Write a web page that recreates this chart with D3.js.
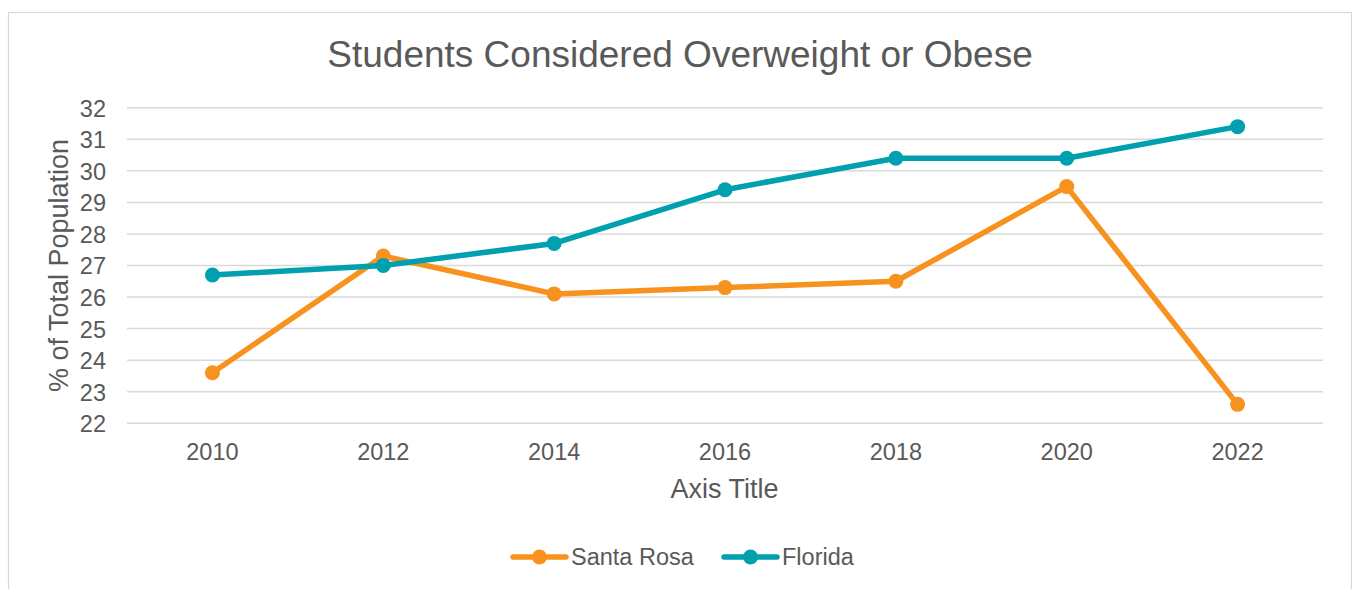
<!DOCTYPE html>
<html>
<head>
<meta charset="utf-8">
<script src="https://cdn.jsdelivr.net/npm/d3@7"></script>
<style>
  html, body { margin: 0; padding: 0; background: #fff; }
  svg { display: block; font-family: "Liberation Sans", Arial, sans-serif; }
</style>
</head>
<body>
<svg id="chart" width="1353" height="589"></svg>
<script>
// Survey years and percentages of students considered overweight or obese
const years = ["2010", "2012", "2014", "2016", "2018", "2020", "2022"];
const santaRosa = [23.6, 27.3, 26.1, 26.3, 26.5, 29.5, 22.6];
const florida = [26.7, 27.0, 27.7, 29.4, 30.4, 30.4, 31.4];
const yTicks = [22, 23, 24, 25, 26, 27, 28, 29, 30, 31, 32];
const seriesNames = ["Santa Rosa", "Florida"];
const seriesColors = ["#F7921E", "#00A0AF"];

const svg = d3.select("#chart");
const textColor = "#595959";
const fontFamily = '"Liberation Sans", Arial, sans-serif';

// Outer frame
svg.append("rect")
  .attr("x", 8.5).attr("y", 12.5)
  .attr("width", 1343).attr("height", 600)
  .attr("fill", "#fff").attr("stroke", "#D9D9D9").attr("stroke-width", 1.2);

const plot = { left: 127, right: 1323, top: 107.7, bottom: 423.3 };

const x = d3.scaleBand().domain(years).range([plot.left, plot.right]);
const y = d3.scaleLinear().domain([22, 32]).range([plot.bottom, plot.top]);
const cx = yr => x(yr) + x.bandwidth() / 2;

// Horizontal gridlines
svg.append("g")
  .selectAll("line")
  .data(yTicks)
  .join("line")
  .attr("x1", plot.left).attr("x2", plot.right)
  .attr("y1", d => y(d)).attr("y2", d => y(d))
  .attr("stroke", "#D9D9D9").attr("stroke-width", 1.5);

// Y axis labels
const yAxis = d3.axisLeft(y).tickValues(yTicks).tickSize(0).tickPadding(0);
svg.append("g")
  .attr("transform", `translate(${plot.left - 21},0)`)
  .call(yAxis)
  .call(g => g.select(".domain").remove())
  .call(g => g.selectAll("text")
    .attr("fill", textColor)
    .style("font-size", "23.5px")
    .style("font-family", fontFamily)
    .attr("dy", "0.36em"));

// X axis labels
const xAxis = d3.axisBottom(x).tickSize(0).tickPadding(0);
svg.append("g")
  .attr("transform", `translate(0,${plot.bottom + 20})`)
  .call(xAxis)
  .call(g => g.select(".domain").remove())
  .call(g => g.selectAll("text")
    .attr("fill", textColor)
    .style("font-size", "23.5px")
    .style("font-family", fontFamily));

// Title
svg.append("text")
  .attr("x", 680).attr("y", 67)
  .attr("text-anchor", "middle")
  .attr("fill", textColor)
  .style("font-size", "37px")
  .text("Students Considered Overweight or Obese");

// Axis titles
svg.append("text")
  .attr("transform", `translate(68,${(plot.top + plot.bottom) / 2}) rotate(-90)`)
  .attr("text-anchor", "middle")
  .attr("fill", textColor)
  .style("font-size", "27px")
  .text("% of Total Population");

svg.append("text")
  .attr("x", 724.5).attr("y", 498)
  .attr("text-anchor", "middle")
  .attr("fill", textColor)
  .style("font-size", "27px")
  .text("Axis Title");

// Series lines and markers
const series = [santaRosa, florida];
const line = d3.line()
  .x((d, i) => cx(years[i]))
  .y(d => y(d));

series.forEach((vals, si) => {
  const g = svg.append("g");
  g.append("path")
    .datum(vals)
    .attr("d", line)
    .attr("fill", "none")
    .attr("stroke", seriesColors[si])
    .attr("stroke-width", 5.5)
    .attr("stroke-linejoin", "round")
    .attr("stroke-linecap", "round");
  g.selectAll("circle")
    .data(vals)
    .join("circle")
    .attr("cx", (d, i) => cx(years[i]))
    .attr("cy", d => y(d))
    .attr("r", 7.5)
    .attr("fill", seriesColors[si]);
});

// Legend
const legendItems = [
  { name: seriesNames[0], color: seriesColors[0], x: 513 },
  { name: seriesNames[1], color: seriesColors[1], x: 724 }
];
const lg = svg.append("g");
legendItems.forEach(item => {
  const cy = 557;
  lg.append("line")
    .attr("x1", item.x).attr("x2", item.x + 53)
    .attr("y1", cy).attr("y2", cy)
    .attr("stroke", item.color).attr("stroke-width", 5.5)
    .attr("stroke-linecap", "round");
  lg.append("circle")
    .attr("cx", item.x + 26.5).attr("cy", cy).attr("r", 7.5)
    .attr("fill", item.color);
  lg.append("text")
    .attr("x", item.x + 58).attr("y", cy)
    .attr("dy", "0.36em")
    .attr("fill", textColor)
    .style("font-size", "23.5px")
    .text(item.name);
});
</script>
</body>
</html>
